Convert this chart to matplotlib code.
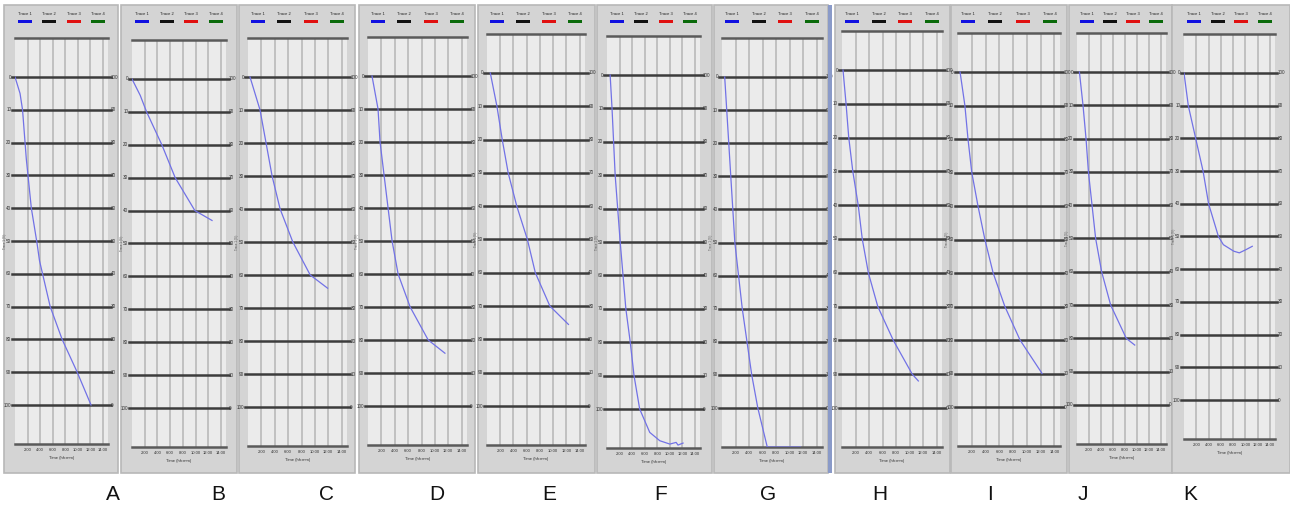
import matplotlib.pyplot as plt
from matplotlib.patches import Rectangle

W, H = 1290, 511

# panel letters
letters = ['A', 'B', 'C', 'D', 'E', 'F', 'G', 'H', 'I', 'J', 'K']

# curves: time (h) vs left-axis value (0 top .. 100 bottom)
t_a = [0, 0.8, 1.2, 1.8, 2.6, 3.5, 3.9, 5.6, 7.5, 9.9, 12.1]
v_a = [0, 5, 10, 25, 40, 50.6, 56, 70, 80, 90, 100]
t_b = [0, 1.3, 2.3, 4.7, 6.8, 9.9, 12.6]
v_b = [0, 5, 10, 20, 30, 40, 43]
t_c = [0.3, 1.8, 2.7, 3.6, 4.8, 6.7, 9.3, 11.9]
v_c = [0, 10, 20, 30, 40, 50, 60, 64]
t_d = [0.6, 1.5, 1.8, 2.4, 3.0, 3.6, 4.5, 6.3, 9.0, 11.5]
v_d = [0, 10, 20, 30, 40, 50, 60, 70, 80, 84]
t_e = [0.5, 1.5, 2.3, 3.2, 4.5, 6.1, 7.3, 9.5, 12.3]
v_e = [0, 10, 20, 30, 40, 50, 60, 70, 75.5]
t_f = [0.5, 0.8, 1.3, 2.1, 3.0, 3.7, 4.3, 5.2, 6.8, 8.4, 10.0, 11.0, 11.3, 12.1]
v_f = [0, 10, 30, 50, 70, 80, 90, 100, 107, 109.5, 110.5, 110, 110.8, 110.2]
t_g = [0.4, 0.7, 1.9, 3.0, 4.4, 5.3, 6.7, 11.6]
v_g = [0, 10, 50, 70, 90, 100, 111.8, 111.8]
t_h = [0.15, 0.6, 1.0, 1.6, 2.4, 3.0, 3.9, 5.3, 7.6, 10.4, 11.3]
v_h = [0, 10, 20, 30, 40, 50, 60, 70, 80, 90, 92]
t_i = [0.3, 1.0, 1.45, 2.0, 2.9, 3.9, 5.1, 6.8, 9.0, 12.2]
v_i = [0, 10, 20, 30, 40, 50, 60, 70, 80, 90]
t_j = [0.4, 1.0, 1.5, 1.9, 2.5, 3.1, 4.1, 5.6, 8.2, 9.6]
v_j = [0, 10, 20, 30, 40, 50, 60, 70, 80, 82]
t_k = [0, 0.7, 1.9, 3.1, 4.0, 5.6, 6.4, 8.1, 9.0, 10.1, 11.1]
v_k = [0, 10, 20, 30, 40, 50, 52.5, 54.5, 55, 54, 53]

times = [t_a, t_b, t_c, t_d, t_e, t_f, t_g, t_h, t_i, t_j, t_k]
values = [v_a, v_b, v_c, v_d, v_e, v_f, v_g, v_h, v_i, v_j, v_k]

levels = list(range(0, 101, 10))
xticks = [2, 4, 6, 8, 10, 12, 14]
xtick_labels = ['2:00', '4:00', '6:00', '8:00', '10:00', '12:00', '14:00']
trace_names = ['Trace 1', 'Trace 2', 'Trace 3', 'Trace 4']
trace_colors = ['#1010e0', '#111111', '#e01010', '#0a6a0a']

# layout in pixels (plot left, plot right, y of 0-line, y of 100-line)
plot_l = [15, 132, 248, 368, 487, 607, 722, 842, 958, 1077, 1184]
plot_r = [108, 226, 347, 467, 585, 700, 822, 942, 1060, 1166, 1275]
y0_px = [77, 79, 77, 76, 73, 75, 77, 70, 72, 72, 73]
y100_px = [405, 408, 407, 406, 406, 409, 408, 408, 407, 405, 400]
panel_l = [4, 121, 239, 359, 478, 597, 714, 835, 951, 1069, 1172]
panel_r = [118, 237, 355, 475, 595, 712, 828, 950, 1067, 1172, 1290]
letter_x = [113, 218, 326, 437, 549, 661, 768, 880, 990, 1083, 1190]
XMAX = 14.8

plt.rcParams['font.family'] = ['Liberation Sans', 'DejaVu Sans']
fig = plt.figure(figsize=(W / 100, H / 100), dpi=100)
fig.patch.set_facecolor('white')


def fx(x):
    return x / W


def fy(y):
    return 1 - y / H


for i in range(len(letters)):
    # panel background
    fig.patches.append(Rectangle((fx(panel_l[i]), fy(473)), (panel_r[i] - panel_l[i]) / W, 468 / H,
                                 transform=fig.transFigure, facecolor='#d4d4d4',
                                 edgecolor='#b8b8b8', lw=1.2, zorder=-5))

    top = y0_px[i] - 39
    bot = y100_px[i] + 39
    s = (y100_px[i] - y0_px[i]) / 100
    ax = fig.add_axes([fx(plot_l[i]), fy(bot), (plot_r[i] - plot_l[i]) / W, (bot - top) / H])
    ax.set_facecolor('#ebebeb')
    ax.set_xlim(0, XMAX)
    ax.set_ylim((bot - y0_px[i]) / s, (top - y0_px[i]) / s)
    for g in xticks:
        ax.axvline(g, color='#bdbdbd', lw=1.3, zorder=1)
    for v in levels:
        ax.plot([-0.5, XMAX + 0.4], [v, v], color='#3c3c3c', lw=1.8, clip_on=False, zorder=2)
        ax.text(-0.6, v, str(v), ha='right', va='center', fontsize=3.3, color='#333333')
        ax.text(XMAX + 0.5, v, str(100 - v), ha='left', va='center', fontsize=3.3, color='#333333')
    ax.plot(times[i], values[i], color='#7272e6', lw=0.9, zorder=3)

    ax.set_xticks(xticks)
    ax.set_xticklabels(xtick_labels, fontsize=3.0, color='#333333')
    ax.tick_params(axis='x', length=0, pad=3)
    ax.set_yticks([])
    ax.set_xlabel('Time (hh:mm)', fontsize=3.0, labelpad=3, color='#333333')
    for side in ['left', 'right']:
        ax.spines[side].set_visible(False)
    ax.spines['top'].set_color('#5a5a5a')
    ax.spines['top'].set_linewidth(1.8)
    ax.spines['bottom'].set_color('#5a5a5a')
    ax.spines['bottom'].set_linewidth(1.8)

    # small rotated axis title, between the level labels 40 and 60
    ax.text(-1.6, 50, 'Trace 1 (%)', rotation=90, ha='center', va='center', fontsize=2.2, color='#555555')

    # legend strip on top
    span = plot_r[i] - plot_l[i]
    for k in range(4):
        cx = plot_l[i] + 10 + k * (span - 20) / 3
        fig.text(fx(cx), fy(14), trace_names[k], ha='center', va='center', fontsize=3.0, color='#222222')
        fig.patches.append(Rectangle((fx(cx - 7), fy(23)), 14 / W, 3 / H, transform=fig.transFigure,
                                     facecolor=trace_colors[k], edgecolor='none', zorder=2))

    fig.text(fx(letter_x[i]), fy(494), letters[i], ha='center', va='center', fontsize=15, color='#111111')

# blue divider before panel H
fig.patches.append(Rectangle((fx(828), fy(473)), 4 / W, 468 / H, transform=fig.transFigure,
                             facecolor='#8a9ac8', edgecolor='none', zorder=1))

fig.savefig('out.png', dpi=100, facecolor='white')
